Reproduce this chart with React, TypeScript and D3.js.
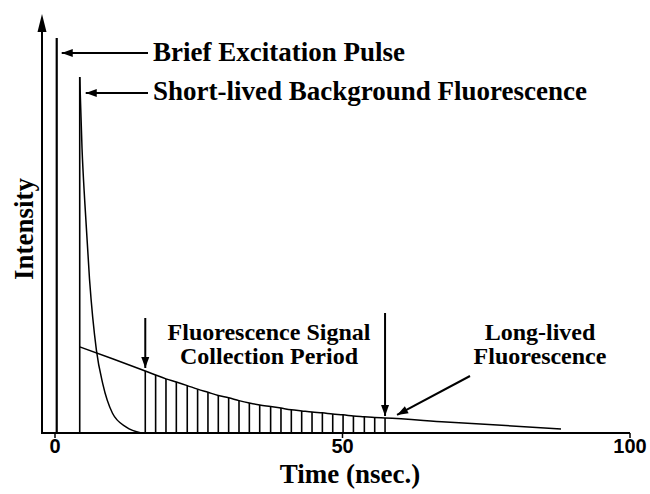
import React from "react";
import * as d3 from "d3";

// time axis ticks (ns)
const timeTicks = [0, 50, 100];

// excitation pulse
const pulseTime = 0.3;
const pulsePeak = 1.0;

// short-lived background spike
const backgroundTime = 4.3;
const shortLivedTime = [4.3, 4.7, 5.2, 6.0, 7.2, 8.3, 10.0, 12.4, 15.0];
const shortLivedIntensity = [0.901, 0.72, 0.58, 0.39, 0.21, 0.125, 0.05, 0.015, 0];

// long-lived fluorescence, before / after the gate
const longHeadTime = [4.3, 10.0];
const longHeadIntensity = [0.218, 0.188];
const longTailTime = [68, 78.4, 88];
const longTailIntensity = [0.028, 0.019, 0.01];

// gated collection samples
const collectionTime = [
  15.7, 17.5, 19.3, 21.1, 23.0, 24.8, 26.6, 28.4, 30.2, 32.0, 33.8, 35.6,
  37.5, 39.3, 41.1, 42.9, 44.7, 46.5, 48.3, 50.1, 51.9, 53.8, 55.6, 57.4,
];
const collectionIntensity = [
  0.157, 0.147, 0.137, 0.129, 0.12, 0.111, 0.103, 0.095, 0.089, 0.082, 0.076,
  0.071, 0.067, 0.063, 0.059, 0.056, 0.053, 0.051, 0.048, 0.046, 0.043, 0.041,
  0.039, 0.038,
];

const W = 650;
const H = 494;
const serif = "'Liberation Serif', 'Times New Roman', serif";
const sans = "'Liberation Sans', Arial, sans-serif";

export default function App() {
  const x = d3.scaleLinear().domain([0, 100]).range([55, 630]);
  const y = d3.scaleLinear().domain([0, 1]).range([433, 38]);
  const axisX = 42;
  const base = y(0);

  const line = d3
    .line<[number, number]>()
    .x((d) => x(d[0]))
    .y((d) => y(d[1]))
    .curve(d3.curveMonotoneX);

  const shortPts = shortLivedTime.map((t, i) => [t, shortLivedIntensity[i]] as [number, number]);
  const longPts = [
    ...longHeadTime.map((t, i) => [t, longHeadIntensity[i]] as [number, number]),
    ...collectionTime.map((t, i) => [t, collectionIntensity[i]] as [number, number]),
    ...longTailTime.map((t, i) => [t, longTailIntensity[i]] as [number, number]),
  ];

  // arrowhead pointing to (tx,ty) coming from (fx,fy)
  const head = (fx: number, fy: number, tx: number, ty: number, len = 11, hw = 4) => {
    const a = Math.atan2(ty - fy, tx - fx);
    const bx = tx - len * Math.cos(a);
    const by = ty - len * Math.sin(a);
    const px = -Math.sin(a) * hw;
    const py = Math.cos(a) * hw;
    return `M${tx},${ty}L${bx + px},${by + py}L${bx - px},${by - py}Z`;
  };
  const arrow = (fx: number, fy: number, tx: number, ty: number, key: string) => (
    <g key={key}>
      <line x1={fx} y1={fy} x2={tx} y2={ty} stroke="#000" strokeWidth={2} />
      <path d={head(fx, fy, tx, ty)} fill="#000" />
    </g>
  );

  const pulseX = x(pulseTime);
  const bgX = x(backgroundTime);
  const peakY = y(shortLivedIntensity[0]);
  const gateStart = collectionTime[0];
  const gateEnd = collectionTime[collectionTime.length - 1];
  const lastI = collectionIntensity[collectionIntensity.length - 1];

  return (
    <svg width={W} height={H} style={{ position: "absolute", left: 0, top: 0, background: "#fff" }}>
      {/* axes */}
      <line x1={axisX} y1={base} x2={axisX} y2={28} stroke="#000" strokeWidth={2} />
      <path d={head(axisX, 100, axisX, 14, 18, 4.5)} fill="#000" />
      <line x1={axisX - 1} y1={base} x2={x(100)} y2={base} stroke="#000" strokeWidth={2} />
      {timeTicks.map((t) => (
        <g key={t}>
          <line x1={x(t)} y1={base} x2={x(t)} y2={base + 5} stroke="#000" strokeWidth={1.5} />
          <text x={x(t)} y={453} textAnchor="middle" fontFamily={sans} fontWeight="bold" fontSize={20}>
            {t}
          </text>
        </g>
      ))}
      <text x={350} y={483} textAnchor="middle" fontFamily={serif} fontWeight="bold" fontSize={27}>
        Time (nsec.)
      </text>
      <text
        transform={`translate(33,229) rotate(-90)`}
        textAnchor="middle"
        fontFamily={serif}
        fontWeight="bold"
        fontSize={27}
      >
        Intensity
      </text>

      {/* excitation pulse */}
      <line x1={pulseX} y1={base} x2={pulseX} y2={y(pulsePeak)} stroke="#000" strokeWidth={2.2} />

      {/* background spike */}
      <line x1={bgX} y1={base} x2={bgX} y2={peakY} stroke="#000" strokeWidth={1.6} />
      <path d={line(shortPts) || ""} fill="none" stroke="#000" strokeWidth={1.5} />

      {/* long-lived */}
      <path d={line(longPts) || ""} fill="none" stroke="#000" strokeWidth={1.5} />
      {collectionTime.map((t, i) => (
        <line key={i} x1={x(t)} y1={base} x2={x(t)} y2={y(collectionIntensity[i])} stroke="#000" strokeWidth={1.6} />
      ))}

      {/* annotations */}
      {arrow(148, y(pulsePeak) + 15, pulseX + 5, y(pulsePeak) + 15, "a1")}
      {arrow(148, peakY + 16, bgX + 6, peakY + 16, "a2")}
      {arrow(x(gateStart), 318, x(gateStart), y(collectionIntensity[0]) - 3, "a3")}
      {arrow(x(gateEnd), 313, x(gateEnd), y(lastI) - 2, "a4")}
      {arrow(470, 376, x(gateEnd) + 12, y(lastI) - 3, "a5")}

      <g fontFamily={serif} fontWeight="bold" fontSize={27}>
        <text x={153} y={61}>Brief Excitation Pulse</text>
        <text x={153} y={100}>Short-lived Background Fluorescence</text>
      </g>
      <g fontFamily={serif} fontWeight="bold" fontSize={24}>
        <text x={269} y={340} textAnchor="middle">Fluorescence Signal</text>
        <text x={269} y={364} textAnchor="middle">Collection Period</text>
        <text x={540} y={340} textAnchor="middle">Long-lived</text>
        <text x={540} y={364} textAnchor="middle">Fluorescence</text>
      </g>
    </svg>
  );
}
